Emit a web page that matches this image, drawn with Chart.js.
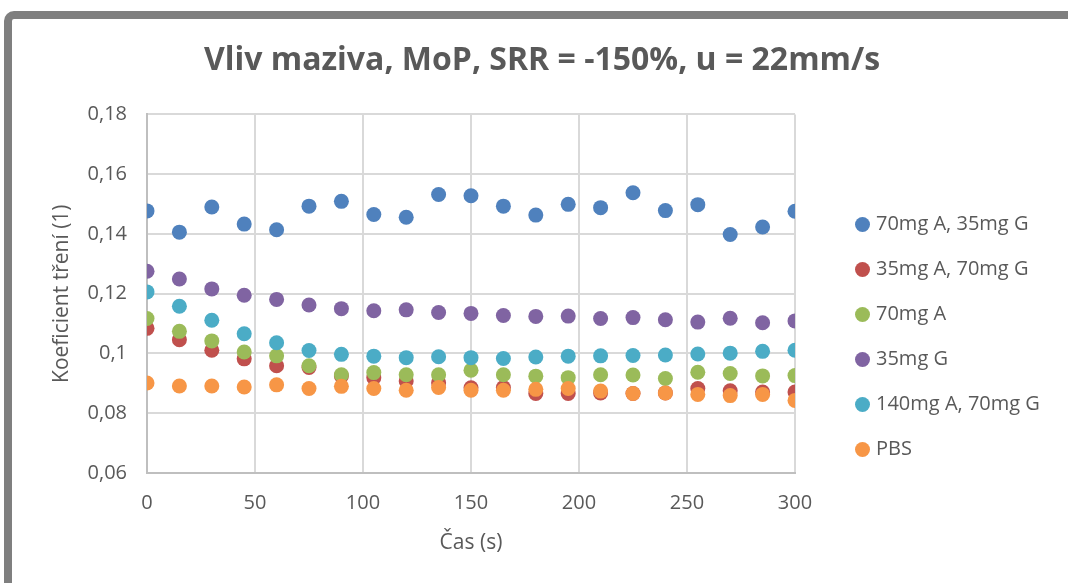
<!DOCTYPE html>
<html>
<head>
<meta charset="utf-8">
<script src="https://cdn.jsdelivr.net/npm/chart.js@4/dist/chart.umd.min.js"></script>
<style>
  html, body { margin: 0; padding: 0; background: #ffffff; overflow: hidden; }
  #wrap { position: relative; width: 1068px; height: 583px; }
  #frame { position: absolute; left: 4px; top: 11px; width: 1100px; height: 640px;
           border: 8px solid #7f7f7f; border-top-left-radius: 10px; box-sizing: border-box; }
  #c { position: absolute; left: 0; top: 0; z-index: 2; }
</style>
</head>
<body>
<div id="wrap">
  <div id="frame"></div>
  <canvas id="c" width="1068" height="583"></canvas>
</div>
<script>
const chartTitle = 'Vliv maziva, MoP, SRR = -150%, u = 22mm/s';
const xTitle = 'Čas (s)';
const yTitle = 'Koeficient tření (1)';
const times = [0, 15, 30, 45, 60, 75, 90, 105, 120, 135, 150, 165, 180, 195, 210, 225, 240, 255, 270, 285, 300];
const yTickLabels = ['0,06', '0,08', '0,1', '0,12', '0,14', '0,16', '0,18'];
const xTickLabels = ['0', '50', '100', '150', '200', '250', '300'];

const seriesNames = ['70mg A, 35mg G', '35mg A, 70mg G', '70mg A', '35mg G', '140mg A, 70mg G', 'PBS'];
const seriesColors = ['#4F81BD', '#C0504D', '#9BBB59', '#8064A2', '#4BACC6', '#F79646'];

const s70A35G = [0.1477, 0.1406, 0.1490, 0.1433, 0.1414, 0.1493, 0.1509, 0.1465, 0.1456, 0.1532, 0.1528, 0.1493, 0.1463, 0.1499, 0.1488, 0.1538, 0.1478, 0.1498, 0.1398, 0.1423, 0.1476];
const s35A70G = [0.1084, 0.1046, 0.1011, 0.0982, 0.0959, 0.0953, 0.0925, 0.0919, 0.0908, 0.0902, 0.0885, 0.0886, 0.0866, 0.0866, 0.0868, 0.0866, 0.0868, 0.0883, 0.0875, 0.0871, 0.0871];
const s70A = [0.1117, 0.1074, 0.1042, 0.1005, 0.0992, 0.0959, 0.0929, 0.0936, 0.0929, 0.0929, 0.0944, 0.0929, 0.0924, 0.0919, 0.0929, 0.0928, 0.0916, 0.0937, 0.0933, 0.0925, 0.0926];
const s35G = [0.1275, 0.1249, 0.1216, 0.1195, 0.1181, 0.1162, 0.1150, 0.1143, 0.1146, 0.1137, 0.1134, 0.1127, 0.1124, 0.1125, 0.1117, 0.1120, 0.1113, 0.1105, 0.1118, 0.1103, 0.1109];
const s140A70G = [0.1206, 0.1158, 0.1111, 0.1066, 0.1036, 0.1010, 0.0997, 0.0991, 0.0986, 0.0989, 0.0986, 0.0983, 0.0988, 0.0991, 0.0992, 0.0993, 0.0995, 0.0998, 0.1001, 0.1007, 0.1011];
const sPBS = [0.0901, 0.0891, 0.0891, 0.0888, 0.0895, 0.0883, 0.0890, 0.0883, 0.0877, 0.0886, 0.0877, 0.0877, 0.0880, 0.0883, 0.0874, 0.0866, 0.0868, 0.0863, 0.0859, 0.0863, 0.0843];

const seriesValues = [s70A35G, s35A70G, s70A, s35G, s140A70G, sPBS];

const TEXT = '#595959';
const FONT = "'Open Sans', 'DejaVu Sans', sans-serif";

const datasets = seriesValues.map((vals, i) => ({
  label: seriesNames[i],
  data: times.map((t, j) => ({ x: t, y: vals[j] })),
  backgroundColor: seriesColors[i],
  borderColor: seriesColors[i],
  pointRadius: 7.5,
  pointHoverRadius: 7.5,
  pointBorderWidth: 0,
  showLine: false,
  order: seriesValues.length - 1 - i
}));

const legendPlugin = {
  id: 'customLegend',
  afterDraw(chart) {
    const ctx = chart.ctx;
    ctx.save();
    ctx.font = '20px ' + FONT;
    ctx.textBaseline = 'middle';
    ctx.textAlign = 'left';
    chart.data.datasets.forEach((ds, i) => {
      const cy = 224.5 + i * 45.0;
      ctx.beginPath();
      ctx.arc(862.5, cy, 7.5, 0, Math.PI * 2);
      ctx.fillStyle = ds.backgroundColor;
      ctx.fill();
      ctx.fillStyle = TEXT;
      ctx.fillText(ds.label, 876, cy);
    });
    ctx.restore();
  }
};

new Chart(document.getElementById('c'), {
  type: 'scatter',
  data: { datasets },
  plugins: [legendPlugin],
  options: {
    responsive: false,
    animation: false,
    events: [],
    layout: { padding: { left: 16, right: 0, top: 0, bottom: 0 } },
    plugins: {
      legend: { display: false },
      tooltip: { enabled: false },
      title: {
        display: true,
        text: chartTitle,
        color: TEXT,
        font: { family: FONT, size: 32, weight: 'bold', lineHeight: 1.2 },
        padding: { top: 42, bottom: 34 }
      }
    },
    scales: {
      x: {
        type: 'linear',
        position: 'bottom',
        min: 0, max: 300,
        afterFit: s => { s.height = 110; },
        afterBuildTicks: s => { s.ticks = xTickLabels.map(v => ({ value: Number(v) })); },
        ticks: {
          color: TEXT,
          font: { family: FONT, size: 20 },
          padding: 18,
          maxRotation: 0,
          callback: (v, i) => xTickLabels[i]
        },
        grid: { color: '#d9d9d9', lineWidth: 2, drawTicks: false },
        border: { color: '#bfbfbf', width: 2 },
        title: {
          display: true, text: xTitle, color: TEXT,
          font: { family: FONT, size: 21, lineHeight: 1.2 },
          padding: { top: 0, bottom: 27 }
        }
      },
      y: {
        type: 'linear',
        position: 'left',
        min: 0.06, max: 0.18,
        afterFit: s => { s.width = 131; },
        afterBuildTicks: s => { s.ticks = yTickLabels.map(v => ({ value: Number(v.replace(',', '.')) })); },
        ticks: {
          color: TEXT,
          font: { family: FONT, size: 20 },
          padding: 20,
          callback: (v, i) => yTickLabels[i]
        },
        grid: { color: '#d9d9d9', lineWidth: 2, drawTicks: false },
        border: { color: '#bfbfbf', width: 2 },
        title: {
          display: true, text: yTitle, color: TEXT,
          font: { family: FONT, size: 21, lineHeight: 1.2 },
          padding: { top: 33, bottom: 0 }
        }
      },
      legendSpace: {
        type: 'linear',
        position: 'right',
        display: true,
        afterFit: s => { s.width = 273; },
        ticks: { display: false },
        grid: { display: false, drawTicks: false },
        border: { display: false }
      }
    }
  }
});
</script>
</body>
</html>
